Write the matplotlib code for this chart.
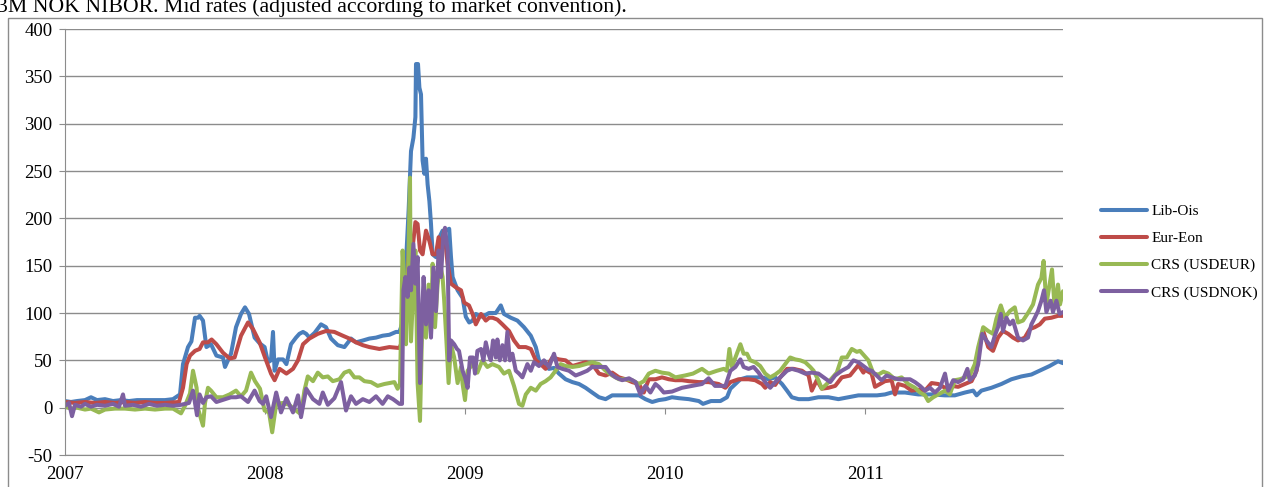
import matplotlib
matplotlib.use("Agg")
import matplotlib.pyplot as plt
import matplotlib.patches as patches

# values: (decimal year, basis points)
lib_ois = [
    (2007.0, 7), (2007.03, 6), (2007.06, 7), (2007.1, 8), (2007.13, 11), (2007.16, 8),
    (2007.2, 9), (2007.24, 7), (2007.28, 8), (2007.32, 7), (2007.36, 8), (2007.4, 8),
    (2007.45, 8), (2007.5, 8), (2007.54, 9), (2007.575, 14), (2007.59, 46), (2007.615, 64),
    (2007.632, 70), (2007.65, 95), (2007.665, 95), (2007.673, 97), (2007.69, 92), (2007.707, 64),
    (2007.73, 67), (2007.757, 55), (2007.79, 53), (2007.8, 43), (2007.83, 57), (2007.855, 85),
    (2007.88, 99), (2007.9, 106), (2007.92, 99), (2007.948, 74), (2007.973, 68), (2007.998, 64),
    (2008.015, 48), (2008.03, 50), (2008.04, 80), (2008.048, 39), (2008.065, 51), (2008.09, 51),
    (2008.107, 46), (2008.13, 67), (2008.155, 74), (2008.172, 78), (2008.19, 80), (2008.206, 78),
    (2008.222, 74), (2008.248, 79), (2008.28, 88), (2008.305, 85), (2008.33, 73), (2008.364, 66),
    (2008.397, 64), (2008.43, 73), (2008.455, 69), (2008.49, 71), (2008.522, 73), (2008.555, 74),
    (2008.588, 76), (2008.622, 77), (2008.655, 80), (2008.672, 80), (2008.688, 90), (2008.697, 98),
    (2008.708, 166), (2008.718, 208), (2008.73, 271), (2008.742, 285), (2008.752, 307), (2008.755, 363),
    (2008.765, 363), (2008.772, 338), (2008.78, 331), (2008.788, 261), (2008.797, 247), (2008.805, 263),
    (2008.813, 236), (2008.822, 218), (2008.83, 194), (2008.838, 162), (2008.855, 159), (2008.872, 180),
    (2008.888, 187), (2008.905, 187), (2008.921, 189), (2008.93, 159), (2008.938, 138), (2008.963, 124),
    (2008.988, 116), (2009.004, 96), (2009.021, 90), (2009.038, 92), (2009.054, 99), (2009.088, 96),
    (2009.12, 100), (2009.154, 100), (2009.179, 108), (2009.195, 99), (2009.229, 95), (2009.262, 92),
    (2009.295, 85), (2009.329, 76), (2009.354, 64), (2009.37, 50), (2009.395, 44), (2009.42, 41),
    (2009.445, 42), (2009.47, 36), (2009.503, 30), (2009.537, 27), (2009.57, 25), (2009.603, 21),
    (2009.636, 16), (2009.67, 11), (2009.703, 9), (2009.736, 13), (2009.77, 13), (2009.8, 13),
    (2009.836, 13), (2009.87, 13), (2009.902, 9), (2009.936, 6), (2009.969, 8), (2010.002, 9),
    (2010.035, 11), (2010.07, 10), (2010.119, 9), (2010.169, 7), (2010.19, 4), (2010.23, 7),
    (2010.277, 7), (2010.31, 11), (2010.327, 20), (2010.352, 25), (2010.377, 30), (2010.41, 32),
    (2010.451, 32), (2010.485, 32), (2010.518, 30), (2010.551, 32), (2010.585, 25), (2010.61, 18),
    (2010.634, 11), (2010.668, 9), (2010.718, 9), (2010.767, 11), (2010.817, 11), (2010.867, 9),
    (2010.917, 11), (2010.967, 13), (2011.017, 13), (2011.06, 13), (2011.1, 14), (2011.133, 16),
    (2011.2, 16), (2011.266, 14), (2011.333, 14), (2011.4, 13), (2011.449, 13), (2011.5, 16),
    (2011.541, 18), (2011.558, 13), (2011.582, 18), (2011.632, 21), (2011.682, 25), (2011.732, 30),
    (2011.782, 33), (2011.832, 35), (2011.882, 40), (2011.923, 44), (2011.965, 49), (2011.99, 47),
]

eur_eon = [
    (2007.0, 6), (2007.05, 5), (2007.1, 6), (2007.15, 5), (2007.2, 6), (2007.25, 5),
    (2007.3, 6), (2007.35, 5), (2007.4, 6), (2007.45, 5), (2007.5, 5), (2007.57, 6),
    (2007.59, 21), (2007.608, 46), (2007.625, 55), (2007.65, 60), (2007.673, 62), (2007.69, 69),
    (2007.715, 69), (2007.733, 72), (2007.757, 67), (2007.79, 58), (2007.823, 52), (2007.848, 53),
    (2007.88, 76), (2007.915, 90), (2007.94, 83), (2007.973, 69), (2008.0, 53), (2008.03, 36),
    (2008.048, 29), (2008.073, 41), (2008.107, 36), (2008.14, 41), (2008.165, 50), (2008.19, 67),
    (2008.222, 73), (2008.264, 78), (2008.305, 81), (2008.347, 80), (2008.389, 76), (2008.422, 73),
    (2008.455, 69), (2008.489, 66), (2008.522, 64), (2008.572, 62), (2008.622, 64), (2008.672, 63),
    (2008.688, 71), (2008.705, 99), (2008.713, 138), (2008.722, 180), (2008.738, 169), (2008.752, 196),
    (2008.763, 194), (2008.775, 166), (2008.788, 162), (2008.805, 187), (2008.822, 176), (2008.838, 162),
    (2008.855, 162), (2008.868, 180), (2008.88, 166), (2008.896, 187), (2008.913, 152), (2008.93, 131),
    (2008.955, 127), (2008.98, 124), (2008.996, 111), (2009.02, 108), (2009.038, 99), (2009.054, 88),
    (2009.08, 99), (2009.104, 92), (2009.121, 95), (2009.138, 95), (2009.162, 93), (2009.187, 88),
    (2009.22, 81), (2009.245, 71), (2009.27, 64), (2009.304, 64), (2009.329, 62), (2009.354, 50),
    (2009.378, 46), (2009.403, 41), (2009.437, 53), (2009.47, 51), (2009.503, 50), (2009.537, 44),
    (2009.57, 46), (2009.603, 48), (2009.636, 46), (2009.67, 36), (2009.703, 34), (2009.736, 37),
    (2009.77, 32), (2009.803, 30), (2009.836, 27), (2009.869, 25), (2009.894, 16), (2009.919, 30),
    (2009.952, 30), (2009.985, 32), (2010.019, 30), (2010.052, 29), (2010.085, 29), (2010.119, 28),
    (2010.169, 27), (2010.218, 27), (2010.268, 25), (2010.302, 21), (2010.327, 27), (2010.368, 30),
    (2010.418, 30), (2010.451, 29), (2010.485, 25), (2010.501, 21), (2010.526, 27), (2010.551, 24),
    (2010.576, 32), (2010.61, 41), (2010.643, 41), (2010.685, 39), (2010.718, 34), (2010.734, 18),
    (2010.759, 29), (2010.784, 20), (2010.817, 21), (2010.851, 23), (2010.884, 32), (2010.925, 34),
    (2010.967, 45), (2010.992, 37), (2011.0, 40), (2011.033, 36), (2011.05, 22), (2011.075, 25),
    (2011.1, 28), (2011.133, 29), (2011.15, 14), (2011.166, 25), (2011.2, 23), (2011.233, 18),
    (2011.266, 19), (2011.3, 18), (2011.333, 26), (2011.366, 25), (2011.4, 21), (2011.433, 23),
    (2011.466, 22), (2011.5, 25), (2011.533, 28), (2011.558, 39), (2011.574, 67), (2011.591, 81),
    (2011.616, 64), (2011.64, 60), (2011.665, 74), (2011.69, 81), (2011.716, 78), (2011.74, 74),
    (2011.765, 71), (2011.799, 74), (2011.824, 83), (2011.849, 85), (2011.874, 88), (2011.899, 94),
    (2011.932, 95), (2011.965, 97), (2011.99, 97),
]

crs_usdeur = [
    (2007.0, 1), (2007.03, -1), (2007.06, 0), (2007.1, -2), (2007.13, -1), (2007.17, -5),
    (2007.2, -2), (2007.25, -1), (2007.3, -1), (2007.35, -2), (2007.4, -1), (2007.45, -2),
    (2007.5, -1), (2007.54, -1), (2007.58, -6), (2007.6, 2), (2007.625, 15), (2007.64, 39),
    (2007.658, 21), (2007.665, -1), (2007.69, -19), (2007.7, 5), (2007.715, 21), (2007.73, 18),
    (2007.757, 11), (2007.79, 11), (2007.823, 14), (2007.855, 18), (2007.88, 12), (2007.905, 18),
    (2007.93, 37), (2007.95, 28), (2007.975, 20), (2007.998, -3), (2008.02, -5), (2008.036, -26),
    (2008.056, 4), (2008.09, 5), (2008.12, 3), (2008.155, -3), (2008.18, -7), (2008.197, 18),
    (2008.214, 33), (2008.24, 28), (2008.264, 37), (2008.289, 32), (2008.314, 33), (2008.339, 28),
    (2008.372, 30), (2008.397, 37), (2008.422, 39), (2008.447, 32), (2008.472, 32), (2008.497, 28),
    (2008.53, 27), (2008.563, 23), (2008.597, 25), (2008.622, 26), (2008.647, 27), (2008.663, 20),
    (2008.675, 25), (2008.688, 166), (2008.697, 131), (2008.705, 67), (2008.713, 113), (2008.725, 243),
    (2008.73, 70), (2008.738, 109), (2008.752, 166), (2008.763, 26), (2008.775, -14), (2008.785, 78),
    (2008.797, 123), (2008.805, 74), (2008.818, 130), (2008.83, 78), (2008.838, 152), (2008.85, 85),
    (2008.863, 130), (2008.875, 152), (2008.888, 138), (2008.896, 113), (2008.908, 67), (2008.918, 26),
    (2008.93, 67), (2008.946, 53), (2008.963, 26), (2008.98, 43), (2008.988, 25), (2009.0, 8),
    (2009.013, 39), (2009.038, 46), (2009.062, 37), (2009.087, 50), (2009.112, 43), (2009.137, 46),
    (2009.17, 43), (2009.195, 36), (2009.22, 39), (2009.245, 23), (2009.27, 4), (2009.287, 2),
    (2009.304, 14), (2009.329, 21), (2009.354, 18), (2009.378, 25), (2009.403, 28), (2009.428, 32),
    (2009.453, 39), (2009.478, 46), (2009.503, 44), (2009.537, 43), (2009.57, 44), (2009.603, 46),
    (2009.636, 48), (2009.67, 46), (2009.703, 39), (2009.736, 34), (2009.77, 30), (2009.803, 30),
    (2009.836, 29), (2009.869, 25), (2009.894, 28), (2009.919, 36), (2009.952, 39), (2009.985, 37),
    (2010.019, 36), (2010.052, 32), (2010.1, 34), (2010.14, 36), (2010.185, 41), (2010.218, 36),
    (2010.26, 39), (2010.294, 41), (2010.31, 39), (2010.322, 62), (2010.335, 43), (2010.352, 53),
    (2010.377, 67), (2010.393, 57), (2010.41, 57), (2010.426, 50), (2010.451, 48), (2010.476, 44),
    (2010.501, 36), (2010.526, 32), (2010.551, 35), (2010.576, 39), (2010.601, 46), (2010.626, 53),
    (2010.651, 51), (2010.676, 50), (2010.701, 48), (2010.726, 43), (2010.743, 39), (2010.767, 29),
    (2010.784, 20), (2010.809, 25), (2010.834, 31), (2010.859, 37), (2010.884, 53), (2010.909, 53),
    (2010.934, 62), (2010.959, 59), (2010.975, 60), (2010.992, 56), (2011.017, 50), (2011.042, 36),
    (2011.067, 35), (2011.092, 38), (2011.117, 36), (2011.15, 30), (2011.183, 32), (2011.216, 25),
    (2011.25, 21), (2011.275, 16), (2011.3, 13), (2011.316, 7), (2011.341, 11), (2011.366, 14),
    (2011.4, 18), (2011.424, 14), (2011.449, 29), (2011.474, 30), (2011.5, 32), (2011.524, 34),
    (2011.549, 46), (2011.566, 64), (2011.591, 85), (2011.616, 81), (2011.64, 78), (2011.657, 94),
    (2011.679, 108), (2011.699, 95), (2011.724, 102), (2011.749, 106), (2011.765, 90), (2011.79, 92),
    (2011.815, 100), (2011.84, 109), (2011.865, 130), (2011.882, 137), (2011.893, 155), (2011.907, 109),
    (2011.92, 126), (2011.935, 146), (2011.948, 106), (2011.965, 130), (2011.975, 109), (2011.99, 123),
]

crs_usdnok = [
    (2007.0, 2), (2007.02, 5), (2007.035, -9), (2007.05, 3), (2007.08, 1), (2007.1, 4),
    (2007.13, 1), (2007.16, 3), (2007.2, 2), (2007.24, 4), (2007.27, 1), (2007.29, 14),
    (2007.3, 2), (2007.34, 3), (2007.38, 1), (2007.42, 4), (2007.46, 2), (2007.5, 3),
    (2007.54, 2), (2007.58, 3), (2007.62, 5), (2007.64, 18), (2007.66, -8), (2007.673, 14),
    (2007.69, 5), (2007.707, 11), (2007.73, 12), (2007.757, 6), (2007.8, 9), (2007.83, 11),
    (2007.855, 11), (2007.88, 12), (2007.915, 6), (2007.948, 18), (2007.973, 7), (2007.99, 4),
    (2008.006, 12), (2008.03, -10), (2008.056, 16), (2008.08, -5), (2008.107, 10), (2008.14, -5),
    (2008.165, 13), (2008.18, -10), (2008.206, 20), (2008.24, 9), (2008.272, 4), (2008.289, 16),
    (2008.314, 3), (2008.347, 10), (2008.38, 27), (2008.405, -3), (2008.43, 12), (2008.455, 4),
    (2008.489, 9), (2008.522, 6), (2008.555, 12), (2008.588, 4), (2008.614, 12), (2008.64, 9),
    (2008.672, 4), (2008.685, 4), (2008.692, 124), (2008.702, 138), (2008.713, 117), (2008.722, 148),
    (2008.73, 124), (2008.742, 173), (2008.752, 131), (2008.763, 159), (2008.775, 26), (2008.785, 96),
    (2008.793, 138), (2008.805, 88), (2008.818, 124), (2008.83, 74), (2008.842, 148), (2008.855, 102),
    (2008.868, 166), (2008.88, 138), (2008.891, 180), (2008.9, 190), (2008.913, 166), (2008.921, 50),
    (2008.93, 71), (2008.946, 67), (2008.96, 62), (2008.97, 60), (2008.988, 39), (2009.0, 32),
    (2009.013, 21), (2009.025, 53), (2009.04, 53), (2009.05, 36), (2009.062, 60), (2009.08, 62),
    (2009.092, 50), (2009.104, 69), (2009.117, 57), (2009.129, 50), (2009.14, 71), (2009.154, 53),
    (2009.162, 72), (2009.174, 50), (2009.187, 66), (2009.2, 50), (2009.212, 80), (2009.224, 50),
    (2009.237, 57), (2009.254, 39), (2009.27, 36), (2009.287, 32), (2009.312, 46), (2009.329, 39),
    (2009.345, 48), (2009.37, 44), (2009.395, 50), (2009.42, 43), (2009.445, 57), (2009.462, 43),
    (2009.487, 41), (2009.52, 39), (2009.553, 34), (2009.578, 36), (2009.611, 39), (2009.636, 43),
    (2009.67, 43), (2009.703, 43), (2009.728, 36), (2009.753, 32), (2009.786, 29), (2009.82, 31),
    (2009.853, 27), (2009.877, 14), (2009.902, 23), (2009.927, 16), (2009.952, 25), (2009.969, 22),
    (2009.994, 16), (2010.035, 17), (2010.085, 21), (2010.135, 23), (2010.185, 25), (2010.218, 31),
    (2010.25, 23), (2010.302, 23), (2010.327, 39), (2010.352, 43), (2010.377, 51), (2010.393, 43),
    (2010.418, 41), (2010.443, 43), (2010.468, 37), (2010.501, 27), (2010.526, 21), (2010.551, 27),
    (2010.576, 32), (2010.61, 39), (2010.634, 41), (2010.668, 39), (2010.701, 36), (2010.734, 37),
    (2010.767, 36), (2010.8, 31), (2010.826, 27), (2010.851, 34), (2010.884, 39), (2010.917, 43),
    (2010.942, 50), (2010.967, 48), (2010.992, 44), (2011.017, 40), (2011.033, 39), (2011.058, 34),
    (2011.083, 29), (2011.108, 34), (2011.133, 32), (2011.166, 30), (2011.2, 30), (2011.225, 30),
    (2011.25, 27), (2011.275, 23), (2011.3, 18), (2011.325, 21), (2011.35, 16), (2011.375, 21),
    (2011.4, 36), (2011.416, 18), (2011.441, 29), (2011.466, 27), (2011.491, 30), (2011.512, 41),
    (2011.524, 29), (2011.549, 34), (2011.566, 46), (2011.586, 78), (2011.607, 71), (2011.632, 64),
    (2011.649, 76), (2011.665, 85), (2011.679, 99), (2011.69, 81), (2011.707, 95), (2011.724, 88),
    (2011.74, 92), (2011.765, 74), (2011.79, 71), (2011.815, 74), (2011.832, 88), (2011.849, 95),
    (2011.865, 102), (2011.882, 113), (2011.895, 124), (2011.907, 101), (2011.928, 113), (2011.94, 101),
    (2011.957, 113), (2011.973, 99), (2011.99, 101),
]

series_names = ["Lib-Ois", "Eur-Eon", "CRS (USDEUR)", "CRS (USDNOK)"]
series_colors = ["#4A7EBB", "#BE4B48", "#98B954", "#7D60A0"]
year_ticks = [2007, 2008, 2009, 2010, 2011]
y_ticks = list(range(-50, 401, 50))

title = "3M NOK NIBOR. Mid rates (adjusted according to market convention)."

plt.rcParams['font.family'] = ['Liberation Serif', 'DejaVu Serif']
plt.rcParams['axes.unicode_minus'] = False
grey = "#8c8c8c"

W, H = 1272, 487
fig = plt.figure(figsize=(W / 100, H / 100), dpi=100)
ax = fig.add_axes([65 / W, 1 - 455 / H, (1063 - 65) / W, (455 - 29) / H])

for data, name, col in zip([lib_ois, eur_eon, crs_usdeur, crs_usdnok], series_names, series_colors):
    t, v = zip(*data)
    ax.plot(t, v, color=col, lw=2.9, label=name, solid_joinstyle='round', solid_capstyle='round')

ax.set_xlim(2007.0, 2011.99)
ax.set_ylim(-50, 400)
ax.set_yticks(y_ticks)
ax.yaxis.grid(True, color=grey, lw=1)
ax.set_axisbelow(True)
ax.tick_params(axis='y', length=4, color=grey, labelsize=13.5, pad=5)

ax.set_xticks(year_ticks)
ax.set_xticklabels([str(y) for y in year_ticks])
ax.tick_params(axis='x', length=0, labelsize=13.5, pad=8)

for s in ["top", "right"]:
    ax.spines[s].set_visible(False)
for s in ["left", "bottom"]:
    ax.spines[s].set_color(grey)

# horizontal axis crosses at zero with tick marks
sec = ax.secondary_xaxis(50 / 450)
sec.set_xticks(year_ticks)
sec.set_xticklabels([])
sec.tick_params(length=4, color=grey, direction='out')
sec.spines['bottom'].set_color(grey)

fig.legend(loc='center left', bbox_to_anchor=(1101 / W, 1 - 252 / H), frameon=False,
           fontsize=11, handlelength=3.0, handletextpad=0.3, labelspacing=0.88,
           borderpad=0, borderaxespad=0)

fig.text(-0.002, 1 - 12 / H, title, fontsize=15.7, va='baseline', ha='left')

fig.add_artist(patches.Rectangle((8 / W, -0.05), (1262 - 8) / W, 1.05 - 18 / H,
                                 transform=fig.transFigure, fill=False, ec=grey, lw=1))

fig.savefig("out.png", dpi=100)
